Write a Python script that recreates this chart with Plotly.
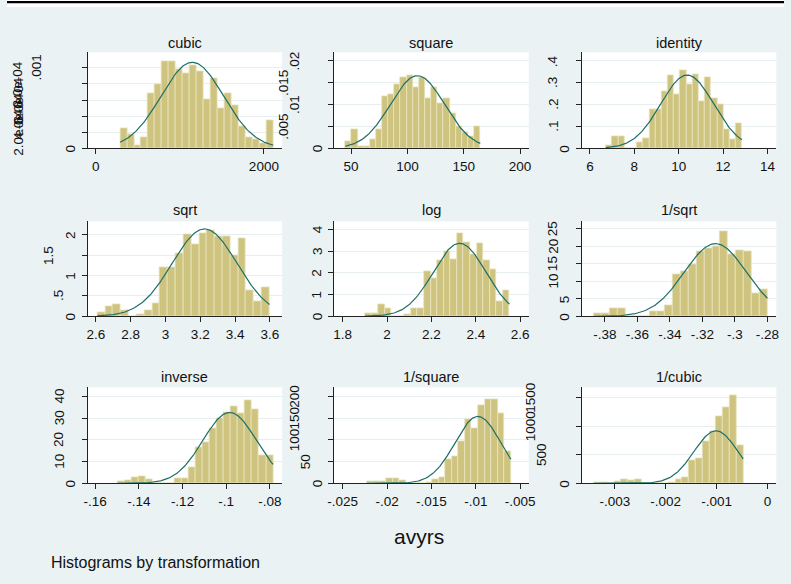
import numpy as np
import plotly.graph_objects as go

W, H = 791, 584

panel_names = ["cubic", "square", "identity", "sqrt", "log", "1/sqrt",
               "inverse", "1/square", "1/cubic"]

# first and last bin edge of each histogram (22 bins each)
bin_lo = [289.0, 44.99, 6.718, 2.608, 1.900, -0.3867, -0.14975, -0.02230, -0.003411]
bin_hi = [2111.0, 164.65, 12.849, 3.598, 2.552, -0.2800, -0.0785, -0.00605, -0.000476]

# histogram densities
h_cubic = [2.44e-4, 1.74e-4, 0.37e-4, 1.40e-4, 6.82e-4, 7.93e-4, 10.83e-4, 10.83e-4,
           9.79e-4, 9.30e-4, 10.29e-4, 9.59e-4, 6.07e-4, 8.72e-4, 5.00e-4, 6.82e-4,
           5.33e-4, 2.69e-4, 1.40e-4, 1.12e-4, 0.62e-4, 3.47e-4]
h_square = [.00153, .00436, .00054, .00054, .00207, .00436, .01194, .01233, .0147,
            .01631, .01669, .01394, .01623, .01156, .01394, .01034, .01156, .0081,
            .0051, .0036, .0027, .0051]
h_identity = [.015, .057, .057, 0, 0, .026, .047, .179, .179, .262, .334, .247, .358,
              .292, .338, .217, .325, .227, .201, .086, .040, .115]
h_sqrt = [.098, .245, .286, .147, 0, .057, .147, .327, 1.2, 1.19, 1.535, 2.016, 1.771,
          2.041, 2.098, 1.959, 1.959, 1.486, 1.918, .629, .376, .718]
h_log = [.153, .153, .536, .368, 0, 0, .077, .368, .368, 2.054, 1.762, 2.56, 2.989,
         2.636, 3.801, 3.418, 2.835, 3.372, 2.559, 2.146, .674, 1.195]
h_isqrt = [.954, .954, 2.29, 2.29, 0, 0, 0, 1.336, 1.336, 3.05, 11.93, 12.88, 14.98,
           18.51, 19.37, 20.04, 24.33, 17.65, 18.99, 18.51, 6.68, 7.63]
h_inverse = [.77, 1.38, 2.6, 3.38, 1.85, 0, 0, 0, 2.15, 2.15, 7.54, 16.46, 18.77,
             25.38, 29.85, 32.6, 35.4, 32.15, 38.0, 34.0, 12.77, 12.77]
h_isquare = [3.85, 3.85, 5.4, 10.8, 10.8, 7.7, 0, 0, 0, 3.1, 9.2, 14.6, 54.6, 62.3,
             96.2, 146.9, 126.9, 178.5, 193.8, 193.8, 160.8, 73.1]
h_icubic = [17.6, 17.6, 0, 35, 70.6, 53, 70.6, 0, 0, 0, 0, 17.6, 70.6, 105.9, 411.8,
            441, 741, 912, 1176, 1341, 1541, 665]
heights = [h_cubic, h_square, h_identity, h_sqrt, h_log, h_isqrt,
           h_inverse, h_isquare, h_icubic]

# normal density overlay: mean and sd of each transformed variable
norm_mean = [1148, 108.9, 10.38, 3.225, 2.327, -0.312, -0.0984, -0.00976, -0.001011]
norm_sd = [373, 24.0, 1.19, 0.1865, 0.1189, 0.01918, 0.01224, 0.002594, 0.000432]

# axis ticks
x_tickvals = [[0, 2000], [50, 100, 150, 200], [6, 8, 10, 12, 14],
              [2.6, 2.8, 3, 3.2, 3.4, 3.6], [1.8, 2, 2.2, 2.4, 2.6],
              [-.38, -.36, -.34, -.32, -.3, -.28], [-.16, -.14, -.12, -.1, -.08],
              [-.025, -.02, -.015, -.01, -.005], [-.003, -.002, -.001, 0]]
x_ticktext = [["0", "2000"], ["50", "100", "150", "200"], ["6", "8", "10", "12", "14"],
              ["2.6", "2.8", "3", "3.2", "3.4", "3.6"], ["1.8", "2", "2.2", "2.4", "2.6"],
              ["-.38", "-.36", "-.34", "-.32", "-.3", "-.28"],
              ["-.16", "-.14", "-.12", "-.1", "-.08"],
              ["-.025", "-.02", "-.015", "-.01", "-.005"],
              ["-.003", "-.002", "-.001", "0"]]
y_tickvals = [[0, 2e-4, 4e-4, 6e-4, 8e-4, 1e-3], [0, .005, .01, .015, .02],
              [0, .1, .2, .3, .4], [0, .5, 1, 1.5, 2], [0, 1, 2, 3, 4],
              [0, 5, 10, 15, 20, 25], [0, 10, 20, 30, 40], [0, 50, 100, 150, 200],
              [0, 500, 1000, 1500]]
y_ticktext = [["0", "2.0e-04", "4.0e-04", "6.0e-04", "8.0e-04", ".001"],
              ["0", ".005", ".01", ".015", ".02"], ["0", ".1", ".2", ".3", ".4"],
              ["0", ".5", "1", "1.5", "2"], ["0", "1", "2", "3", "4"],
              ["0", "5", "10", "15", "20", "25"], ["0", "10", "20", "30", "40"],
              ["0", "50", "100", "150", "200"], ["0", "500", "1000", "1500"]]

# axis ranges
x_ranges = [(-99, 2218), (34.97, 207.7), (5.626, 14.40), (2.552, 3.671), (1.761, 2.639),
            (-.3943, -.2745), (-.1635, -.07434), (-.02597, -.004026), (-.003652, .000176)]
y_ranges = [(0, 1.194e-3), (0, .02198), (0, .4395), (0, 2.327), (0, 4.368),
            (0, 27.2), (0, 44.15), (0, 220.8), (0, 1688)]

# ---------------- layout geometry (pixels) ----------------
col_px = [(87, 282), (334, 529), (582, 777)]
row_px = [(53, 149), (222, 317), (388, 484)]
title_y_px = [44, 210.5, 377.5]

FONT = "Liberation Sans, Arial, sans-serif"
BAR_FILL = "rgb(206,196,128)"
BAR_LINE = "rgb(232,228,190)"
CURVE = "rgb(30,110,105)"
BG = "#EAF2F3"
GRID = "#E6EEF0"

# horizontal compensation for the page capture (it narrows the page slightly)
XK, XC = 0.984, 395.5

def px_x(p):
    return (XC + (p - XC) / XK) / W

def px_y(p):
    return 1 - (p - 0.7) / H

def label_offset(s):
    # Stata centres rotated labels as if they were horizontal right-aligned text
    n = len(s)
    return (17 + 11 * (min(n, 4) - 1) + 6 * max(n - 4, 0)) / XK

fig = go.Figure()
annotations = []
layout = {}

for i, name in enumerate(panel_names):
    r, c = divmod(i, 3)
    sfx = "" if i == 0 else str(i + 1)
    xa, ya = "x" + sfx, "y" + sfx
    n = len(heights[i])
    bw = (bin_hi[i] - bin_lo[i]) / n
    centers = [bin_lo[i] + bw * (k + 0.5) for k in range(n)]
    fig.add_trace(go.Bar(x=centers, y=heights[i], width=bw, xaxis=xa, yaxis=ya,
                         marker=dict(color=BAR_FILL, line=dict(color=BAR_LINE, width=0.8)),
                         showlegend=False, hoverinfo="skip"))
    xs = np.linspace(bin_lo[i], bin_hi[i], 200)
    ys = np.exp(-0.5 * ((xs - norm_mean[i]) / norm_sd[i]) ** 2) / (norm_sd[i] * np.sqrt(2 * np.pi))
    fig.add_trace(go.Scatter(x=xs, y=ys, mode="lines", xaxis=xa, yaxis=ya,
                             line=dict(color=CURVE, width=1.2), showlegend=False,
                             hoverinfo="skip"))
    x0, x1 = col_px[c]
    y0, y1 = row_px[r]
    layout["xaxis" + sfx] = dict(
        domain=[px_x(x0), px_x(x1)], anchor=ya, range=list(x_ranges[i]),
        tickmode="array", tickvals=x_tickvals[i], ticktext=x_ticktext[i],
        ticks="outside", ticklen=5, tickcolor="#222", tickwidth=1,
        showline=True, linecolor="#222", linewidth=1, showgrid=False, zeroline=False,
        tickfont=dict(family=FONT, size=13.5, color="#111"), fixedrange=True)
    layout["yaxis" + sfx] = dict(
        domain=[px_y(y1), px_y(y0)], anchor=xa, range=list(y_ranges[i]),
        tickmode="array", tickvals=y_tickvals[i], showticklabels=False,
        ticks="outside", ticklen=5, tickcolor="#222", tickwidth=1,
        showline=True, linecolor="#222", linewidth=1, showgrid=True,
        gridcolor=GRID, gridwidth=1, zeroline=False, fixedrange=True)
    # vertical y tick labels (Stata-style, rotated)
    for v, lab in zip(y_tickvals[i], y_ticktext[i]):
        annotations.append(dict(x=px_x(x0), xref="paper", xshift=-label_offset(lab),
                                y=v, yref=ya,
                                text=lab, showarrow=False, textangle=-90,
                                xanchor="center", yanchor="middle",
                                font=dict(family=FONT, size=13.5, color="#111")))
    # panel title
    annotations.append(dict(x=px_x((x0 + x1) / 2), y=px_y(title_y_px[r]), xref="paper",
                            yref="paper", text=name, showarrow=False,
                            xanchor="center", yanchor="middle",
                            font=dict(family=FONT, size=14.5, color="#111")))

annotations.append(dict(x=px_x(419), y=px_y(537.5), xref="paper", yref="paper",
                        text="avyrs", showarrow=False, xanchor="center", yanchor="middle",
                        font=dict(family=FONT, size=21, color="#111")))
annotations.append(dict(x=px_x(48), y=px_y(563.5), xref="paper", yref="paper",
                        text="Histograms by transformation", showarrow=False,
                        xanchor="left", yanchor="middle",
                        font=dict(family=FONT, size=16, color="#111")))

shapes = [
    dict(type="rect", xref="paper", yref="paper", x0=0, x1=1, y0=1 - 7 / H, y1=1,
         fillcolor="white", line=dict(width=0), layer="above"),
    dict(type="rect", xref="paper", yref="paper", x0=0, x1=1, y0=1 - 3.2 / H, y1=1 - 1 / H,
         fillcolor="black", line=dict(width=0), layer="above"),
]

fig.update_layout(
    width=W, height=H, margin=dict(l=0, r=0, t=0, b=0),
    paper_bgcolor=BG, plot_bgcolor="white", bargap=0, barmode="overlay",
    annotations=annotations, shapes=shapes, showlegend=False,
    font=dict(family=FONT), **layout)

fig.write_html("out.html", config={"displayModeBar": False, "responsive": False},
               post_script="document.body.style.margin='0px';document.body.style.overflow='hidden';")
